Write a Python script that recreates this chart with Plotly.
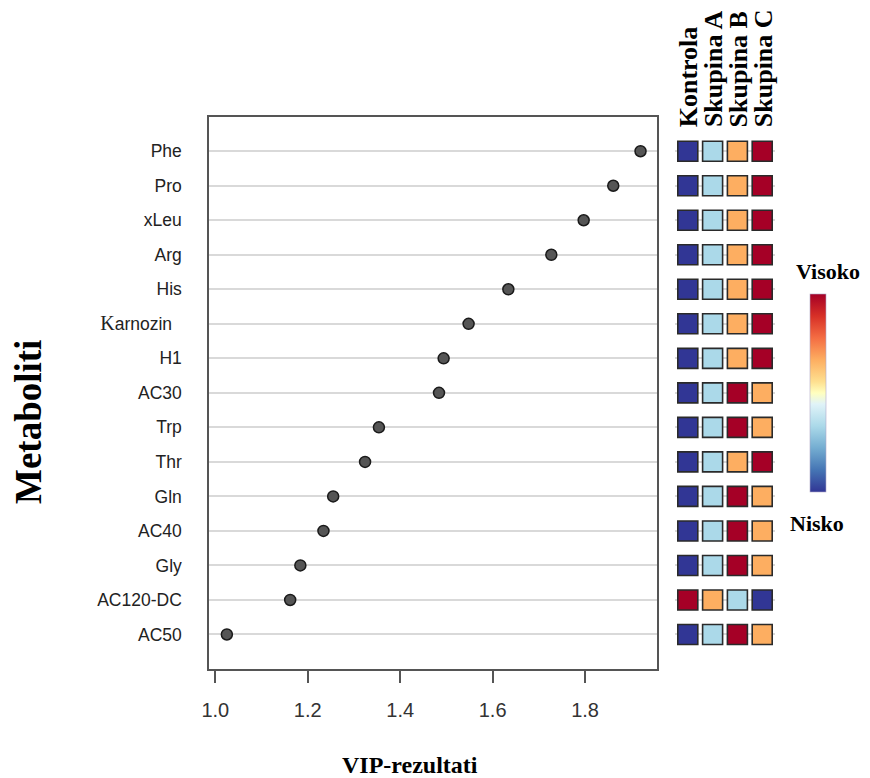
import plotly.graph_objects as go

# ---- data ----
metabolites = ["Phe", "Pro", "xLeu", "Arg", "His", "Karnozin", "H1", "AC30",
               "Trp", "Thr", "Gln", "AC40", "Gly", "AC120-DC", "AC50"]
vip_scores = [1.920, 1.861, 1.797, 1.727, 1.634, 1.548, 1.494, 1.484,
              1.354, 1.324, 1.255, 1.234, 1.184, 1.162, 1.025]
groups = ["Kontrola", "Skupina A", "Skupina B", "Skupina C"]
# relative level (1 = low ... 4 = high) per metabolite for each group
levels_kontrola = [1, 1, 1, 1, 1, 1, 1, 1, 1, 1, 1, 1, 1, 4, 1]
levels_a        = [2, 2, 2, 2, 2, 2, 2, 2, 2, 2, 2, 2, 2, 3, 2]
levels_b        = [3, 3, 3, 3, 3, 3, 3, 4, 4, 3, 4, 4, 4, 2, 4]
levels_c        = [4, 4, 4, 4, 4, 4, 4, 3, 3, 4, 3, 3, 3, 1, 3]
x_ticks = [1.0, 1.2, 1.4, 1.6, 1.8]

W, H = 870, 778
OX, OY = 8, 8  # page body margin offset


def px(x):
    return (x - OX) / W


def py(y):
    return 1 - (y - OY) / H


colorscale = [[0.0, "#313695"], [0.111, "#4575b4"], [0.222, "#74add1"],
              [0.333, "#abd9e9"], [0.444, "#e0f3f8"], [0.5, "#ffffbf"],
              [0.556, "#fee090"], [0.667, "#fdae61"], [0.778, "#f46d43"],
              [0.889, "#d73027"], [1.0, "#a50026"]]

tick_text = [("<span style='font-family:Liberation Serif;font-size:20px'>K</span>arnozin\u00a0\u00a0"
              if m == "Karnozin" else m) for m in metabolites]

fig = go.Figure()

fig.add_trace(go.Scatter(
    x=vip_scores, y=metabolites, mode="markers",
    marker=dict(symbol="circle", size=11, color="#555555",
                line=dict(color="#1a1a1a", width=1.5)),
    xaxis="x", yaxis="y", showlegend=False, hoverinfo="x+y"))

hx, hy, hc = [], [], []
for gi, lev in enumerate([levels_kontrola, levels_a, levels_b, levels_c]):
    for m, v in zip(metabolites, lev):
        hx.append(gi)
        hy.append(m)
        hc.append(v)

fig.add_trace(go.Scatter(
    x=hx, y=hy, mode="markers", xaxis="x2", yaxis="y",
    marker=dict(symbol="square", size=20, color=hc, colorscale=colorscale,
                cmin=1, cmax=4, line=dict(color="#2a2a2a", width=1.6),
                showscale=True,
                colorbar=dict(x=px(809.5), xanchor="left", xpad=0, ypad=0,
                              thickness=15.5, lenmode="fraction",
                              len=(492.3 - 294.3) / H,
                              y=py((294.3 + 492.3) / 2), yanchor="middle",
                              showticklabels=False, ticks="",
                              outlinewidth=0.6, outlinecolor="#b0a8c8")),
    showlegend=False, hoverinfo="skip"))

serif = "Liberation Serif"
annotations = []
col_x = [687.8, 712.6, 737.4, 762.2]
for g, cx in zip(groups, col_x):
    annotations.append(dict(text="<b>%s</b>" % g, x=px(cx + 1), y=py(129),
                            xref="paper", yref="paper", xanchor="center",
                            yanchor="bottom", textangle=-90, showarrow=False,
                            font=dict(family=serif, size=26, color="black")))
annotations += [
    dict(text="<b>Visoko</b>", x=px(828), y=py(271), xref="paper", yref="paper",
         xanchor="center", yanchor="middle", showarrow=False,
         font=dict(family=serif, size=22, color="black")),
    dict(text="<b>Nisko</b>", x=px(817), y=py(523), xref="paper", yref="paper",
         xanchor="center", yanchor="middle", showarrow=False,
         font=dict(family=serif, size=22, color="black")),
    dict(text="<b>Metaboliti</b>", x=px(28), y=py(422), xref="paper", yref="paper",
         xanchor="center", yanchor="middle", textangle=-90, showarrow=False,
         font=dict(family=serif, size=37, color="black")),
    dict(text="<b>VIP-rezultati</b>", x=px(410), y=py(765), xref="paper", yref="paper",
         xanchor="center", yanchor="middle", showarrow=False,
         font=dict(family=serif, size=24, color="black")),
]

fig.update_layout(
    width=W, height=H,
    margin=dict(l=0, r=0, t=0, b=0, autoexpand=False),
    paper_bgcolor="white", plot_bgcolor="white",
    font=dict(family="Liberation Sans", color="#333333"),
    xaxis=dict(domain=[px(209.3), px(656.7)], range=[0.987, 1.955],
               tickvals=x_ticks, ticktext=["%.1f" % t for t in x_ticks],
               ticks="outside", ticklen=12, tickwidth=1.5, tickcolor="#555555",
               showgrid=False, zeroline=False, showline=True, mirror=True,
               linecolor="#555555", linewidth=2, automargin=False,
               ticklabelstandoff=10,
               tickfont=dict(size=20, color="#333333"), anchor="y"),
    yaxis=dict(domain=[py(669), py(116.7)], type="category",
               categoryorder="array", categoryarray=metabolites[::-1],
               range=[-1, 15], tickvals=metabolites, ticktext=tick_text,
               ticks="", showgrid=True, gridcolor="#d9d9d9", gridwidth=1.5,
               zeroline=False, showline=True, mirror=True, automargin=False,
               linecolor="#555555", linewidth=2, ticklabelstandoff=22,
               tickfont=dict(size=17.5, color="#222222"), anchor="x"),
    xaxis2=dict(domain=[px(675.4), px(774.6)], range=[-0.5, 3.5],
                visible=False, anchor="y"),
    annotations=annotations,
)

fig.write_html("out.html")
